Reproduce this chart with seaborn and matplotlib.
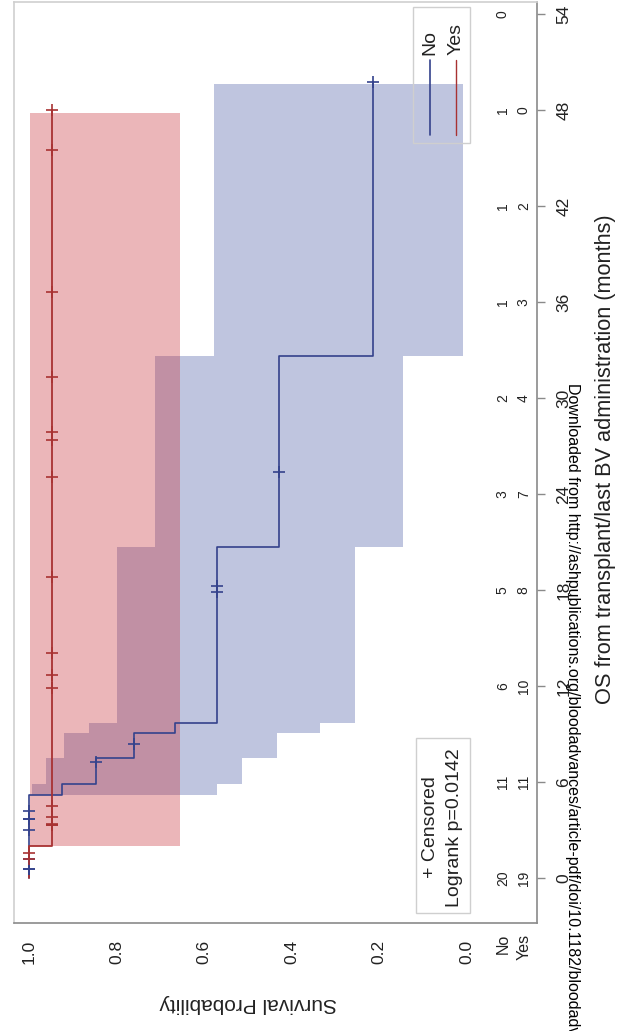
import numpy as np
import pandas as pd
import matplotlib
matplotlib.use("Agg")
import matplotlib.pyplot as plt
import matplotlib.transforms as mtransforms
from matplotlib.lines import Line2D
from matplotlib.patches import Rectangle
import seaborn as sns

no_times = [0, 5.2, 5.9, 7.5, 9.1, 9.7, 20.7, 32.6, 49.75]
no_surv = [1.0, 0.925, 0.846, 0.761, 0.666, 0.571, 0.428, 0.214, 0.214]
yes_times = [0, 2.0, 48.0]
yes_surv = [1.0, 0.947, 0.947]

# censored observations (+ marks)
no_cens_t = [0.6, 0.6, 1.2, 3.0, 3.7, 3.7, 4.2, 7.25, 8.4, 17.9, 18.25, 25.4, 49.75]
no_cens_s = [1.0, 1.0, 1.0, 1.0, 1.0, 1.0, 1.0, 0.846, 0.761, 0.571, 0.571, 0.428, 0.214]
yes_cens_t = [1.2, 1.6, 3.3, 3.3, 3.4, 3.8, 4.5, 11.9, 12.7, 14.1, 18.8, 25.1, 27.4, 27.9,
              31.3, 36.6, 45.5, 48.0]
yes_cens_s = [1.0, 1.0] + [0.947] * 16

# confidence bands (step-wise)
no_band_t = [5.2, 5.9, 7.5, 9.1, 9.7, 20.7, 32.6, 49.6]
no_band_hi = [0.994, 0.962, 0.92, 0.862, 0.798, 0.712, 0.577, 0.577]
no_band_lo = [0.57, 0.514, 0.434, 0.335, 0.255, 0.145, 0.01, 0.01]
yes_band_t = [2.0, 47.8]
yes_band_hi = [0.997, 0.997]
yes_band_lo = [0.655, 0.655]

# number at risk table
risk_t = [0, 6, 12, 18, 24, 30, 36, 42, 48, 54]
risk_no = ["20", "11", "6", "5", "3", "2", "1", "1", "1", "0"]
risk_yes = ["19", "11", "10", "8", "7", "4", "3", "2", "0", ""]

surv_ticks = [1.0, 0.8, 0.6, 0.4, 0.2, 0.0]
surv_labels = ["1.0", "0.8", "0.6", "0.4", "0.2", "0.0"]
time_ticks = [0, 6, 12, 18, 24, 30, 36, 42, 48, 54]

BLUE = "#34428c"
RED = "#a83232"
TXT = "#222222"

sns.set_theme(style="white")
plt.rcParams['font.family'] = ['Liberation Sans', 'DejaVu Sans']

fig = plt.figure(figsize=(6.17, 10.31), dpi=100)
ax = fig.add_axes([14 / 617, 108 / 1031, 523 / 617, 921 / 1031])

# bands
ax.fill_betweenx(no_band_t, no_band_lo, no_band_hi, step="post",
                 color="#4657a3", alpha=0.34, linewidth=0, zorder=1)
ax.fill_betweenx(yes_band_t, yes_band_lo, yes_band_hi, step="post",
                 color="#c62b34", alpha=0.34, linewidth=0, zorder=2)

# survival curves
no_df = pd.DataFrame({"surv": no_surv, "time": no_times})
yes_df = pd.DataFrame({"surv": yes_surv, "time": yes_times})
sns.lineplot(data=no_df, x="surv", y="time", sort=False, estimator=None,
             drawstyle="steps-pre", color=BLUE, linewidth=1.2, ax=ax, zorder=4)
sns.lineplot(data=yes_df, x="surv", y="time", sort=False, estimator=None,
             drawstyle="steps-pre", color=RED, linewidth=1.3, ax=ax, zorder=5)

sns.scatterplot(x=no_cens_s, y=no_cens_t, marker="+", s=70, color=BLUE,
                linewidth=1.2, ax=ax, zorder=6)
sns.scatterplot(x=yes_cens_s, y=yes_cens_t, marker="+", s=70, color=RED,
                linewidth=1.2, ax=ax, zorder=6)

ax.set_xlim(1.034, -0.160)
ax.set_ylim(-2.8, 54.75)
ax.set_xlabel("")
ax.set_ylabel("")

ax.set_xticks(surv_ticks)
ax.set_xticklabels(surv_labels, rotation=90, fontsize=12.5)
ax.yaxis.tick_right()
ax.set_yticks(time_ticks)
ax.set_yticklabels([str(t) for t in time_ticks], rotation=90, fontsize=12.5, va="center")
ax.tick_params(axis="both", direction="out", length=6, width=1, color="#8a8a8a",
               labelcolor=TXT)
ax.tick_params(axis="x", pad=6)
ax.tick_params(axis="y", pad=8)

for side in ["left", "top"]:
    ax.spines[side].set_color("#cfcfcf")
for side in ["right", "bottom"]:
    ax.spines[side].set_color("#8a8a8a")
for sp in ax.spines.values():
    sp.set_linewidth(1.2)

# number at risk rows inside the plot
row_no_x = -0.082
row_yes_x = -0.130
for t, a, b in zip(risk_t, risk_no, risk_yes):
    ax.text(row_no_x, t, a, rotation=90, ha="center", va="center", fontsize=10, color=TXT)
    if b:
        ax.text(row_yes_x, t, b, rotation=90, ha="center", va="center", fontsize=10, color=TXT)
trans = mtransforms.blended_transform_factory(ax.transData, ax.transAxes)
ax.text(row_no_x, -0.012, "No", transform=trans, rotation=90, ha="center", va="top",
        fontsize=11.5, color=TXT)
ax.text(row_yes_x, -0.012, "Yes", transform=trans, rotation=90, ha="center", va="top",
        fontsize=11.5, color=TXT)

# group legend (top right)
ax.add_patch(Rectangle((0.763, 0.847), 0.109, 0.148, transform=ax.transAxes,
                       facecolor="none", edgecolor="#cfcfcf", linewidth=1, zorder=7))
ax.add_line(Line2D([0.795, 0.795], [0.856, 0.937], transform=ax.transAxes, color=BLUE, lw=1.2))
ax.add_line(Line2D([0.845, 0.845], [0.856, 0.937], transform=ax.transAxes, color=RED, lw=1.0))
ax.text(0.795, 0.942, "No", transform=ax.transAxes, rotation=90, ha="center", va="bottom",
        fontsize=14, color=TXT)
ax.text(0.845, 0.942, "Yes", transform=ax.transAxes, rotation=90, ha="center", va="bottom",
        fontsize=14, color=TXT)

# censor / logrank box
ax.add_patch(Rectangle((0.769, 0.011), 0.103, 0.190, transform=ax.transAxes,
                       facecolor="none", edgecolor="#cfcfcf", linewidth=1, zorder=7))
ax.text(0.797, 0.104, "+ Censored", transform=ax.transAxes, rotation=90, ha="center",
        va="center", fontsize=14, color=TXT)
ax.text(0.843, 0.104, "Logrank p=0.0142", transform=ax.transAxes, rotation=90, ha="center",
        va="center", fontsize=14, color=TXT)

# axis titles
fig.text(605 / 617, 1 - 459 / 1031, "OS from transplant/last BV administration (months)",
         rotation=90, ha="center", va="center", fontsize=15.7, color=TXT)
fig.text(248 / 617, 1 - 1003 / 1031, "Survival Probability", rotation=180,
         ha="center", va="center", fontsize=15, color=TXT)

# download stamp of the source page
fig.text(572 / 617, 1 - 383 / 1031,
         "Downloaded from http://ashpublications.org/bloodadvances/article-pdf/doi/10.1182/bloodadvances",
         rotation=270, ha="center", va="top", fontsize=11.5, color="black")

fig.savefig("out.png", dpi=100)
